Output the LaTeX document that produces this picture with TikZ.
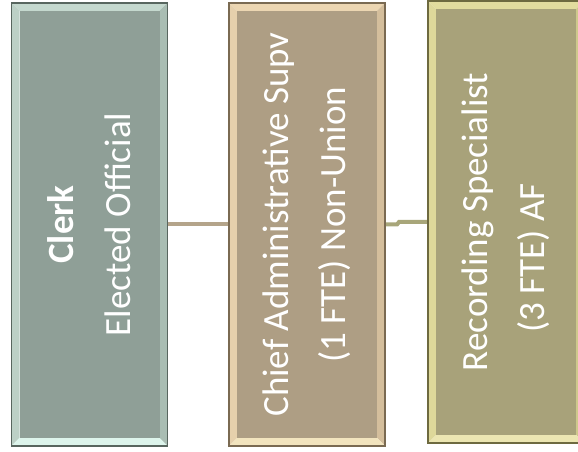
\documentclass[tikz,border=0pt]{standalone}
\usepackage{fontspec}
\setmainfont{Carlito}
% bevelled box: node, face, top, left, right, bottom, border
\newcommand\bevbox[7]{%
  \fill[#3] (#1.north west) -- (#1.north east) -- ([shift={(-8,-8)}]#1.north east) -- ([shift={(8,-8)}]#1.north west) -- cycle;
  \fill[#4] (#1.north west) -- ([shift={(8,-8)}]#1.north west) -- ([shift={(8,8)}]#1.south west) -- (#1.south west) -- cycle;
  \fill[#5] (#1.north east) -- ([shift={(-8,-8)}]#1.north east) -- ([shift={(-8,8)}]#1.south east) -- (#1.south east) -- cycle;
  \fill[#6] (#1.south west) -- ([shift={(8,8)}]#1.south west) -- ([shift={(-8,8)}]#1.south east) -- (#1.south east) -- cycle;
  \fill[#2] ([shift={(8,8)}]#1.south west) rectangle ([shift={(-8,-8)}]#1.north east);
  \draw[#7, line width=1.2pt] (#1.south west) rectangle (#1.north east);
}
\definecolor{faceA}{HTML}{8F9F97}
\definecolor{topA}{HTML}{C4D8CE}
\definecolor{leftA}{HTML}{BCD0C6}
\definecolor{rightA}{HTML}{A9BDB3}
\definecolor{botA}{HTML}{DDF5EC}
\definecolor{edgeA}{HTML}{58665F}
\definecolor{faceB}{HTML}{AE9E84}
\definecolor{topB}{HTML}{ECD6B2}
\definecolor{leftB}{HTML}{E6D0AC}
\definecolor{rightB}{HTML}{D4BE9C}
\definecolor{botB}{HTML}{F2E4BE}
\definecolor{edgeB}{HTML}{7A6A52}
\definecolor{faceC}{HTML}{A8A27A}
\definecolor{topC}{HTML}{E2DC9E}
\definecolor{leftC}{HTML}{DED89A}
\definecolor{rightC}{HTML}{CEC88C}
\definecolor{botC}{HTML}{ECE6B2}
\definecolor{edgeC}{HTML}{6E6A40}
\definecolor{lineA}{HTML}{B4A48A}
\definecolor{lineB}{HTML}{A8A67A}
\begin{document}
\begin{tikzpicture}[x=1pt,y=1pt,
  posbox/.style={minimum width=156pt, minimum height=443pt, inner sep=0pt, outer sep=0pt, draw=none},
  lbl/.style={rotate=90, text=white, font=\fontsize{37}{57}\selectfont, align=center, inner sep=0pt},
  conn/.style={line width=4pt}]
\useasboundingbox (0,0) rectangle (578,452);
\node[posbox] (b1) at (89.5,227.5) {};
\node[posbox] (b2) at (307,227.5) {};
\node[posbox, minimum height=442pt] (b3) at (506,230) {};
% connectors
\draw[conn, lineA] (b1.east) -- (b2.west);
\draw[conn, lineB] (b2.east) -- ++(12,0) -- ++(2,2.5) -- (b3.west);
% boxes
\bevbox{b1}{faceA}{topA}{leftA}{rightA}{botA}{edgeA}
\bevbox{b2}{faceB}{topB}{leftB}{rightB}{botB}{edgeB}
\bevbox{b3}{faceC}{topC}{leftC}{rightC}{botC}{edgeC}
% labels
\node[lbl] (t1) at (b1.center) {{\bfseries Clerk}\\Elected Official};
\node[lbl] (t2) at (b2.center) {Chief Administrative Supv\\(1 FTE) Non-Union};
\node[lbl] (t3) at (b3.center) {Recording Specialist\\(3 FTE) AF\hspace*{72pt}};
\end{tikzpicture}
\end{document}
